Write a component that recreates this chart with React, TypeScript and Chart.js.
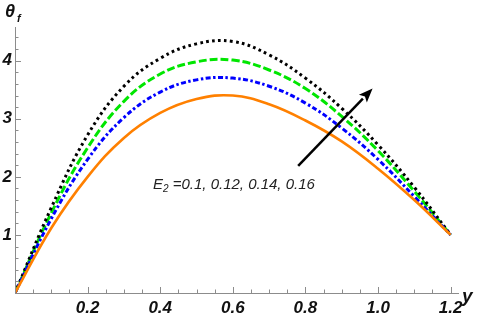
import React, { useEffect, useRef } from "react";
import { Chart, registerables } from "chart.js";

Chart.register(...registerables);

const xValues = [0, 0.1, 0.2, 0.3, 0.4, 0.5, 0.6, 0.7, 0.8, 0.9, 1.0, 1.1, 1.2];
const seriesE010 = [0, 1.12, 2.0, 2.67, 3.1, 3.34, 3.4, 3.25, 2.97, 2.61, 2.14, 1.6, 1.0];
const seriesE012 = [0, 1.28, 2.3, 3.02, 3.46, 3.67, 3.7, 3.56, 3.27, 2.84, 2.3, 1.66, 1.0];
const seriesE014 = [0, 1.38, 2.5, 3.3, 3.77, 3.98, 4.01, 3.84, 3.52, 3.04, 2.45, 1.75, 1.0];
const seriesE016 = [0, 1.47, 2.72, 3.56, 4.04, 4.29, 4.33, 4.1, 3.7, 3.18, 2.55, 1.82, 1.0];
const xTickLabels = [0.2, 0.4, 0.6, 0.8, 1.0, 1.2];
const yTickLabels = [1, 2, 3, 4];
const annotationText = " =0.1, 0.12, 0.14, 0.16";
const arrowFrom = { x: 0.78, y: 2.19 };
const arrowTo = { x: 0.985, y: 3.52 };
const textAnchor = { x: 0.38, y: 1.86 };

const FONT = "'Liberation Sans', Arial, sans-serif";

const toPoints = (ys: number[]) => xValues.map((x, i) => ({ x, y: ys[i] }));

const axesPlugin = {
  id: "mathAxes",
  afterDatasetsDraw(chart: any) {
    const ctx = chart.ctx as CanvasRenderingContext2D;
    const xs = chart.scales.x;
    const ys = chart.scales.y;
    const x0 = xs.getPixelForValue(0);
    const y0 = ys.getPixelForValue(0);
    ctx.save();
    ctx.strokeStyle = "#8c8c8c";
    ctx.lineWidth = 1;
    ctx.beginPath();
    ctx.moveTo(xs.left, y0 + 0.5);
    ctx.lineTo(xs.right, y0 + 0.5);
    ctx.moveTo(x0 + 0.5, ys.bottom);
    ctx.lineTo(x0 + 0.5, ys.top);
    ctx.stroke();
    ctx.beginPath();
    for (let i = 1; i <= 24; i++) {
      const v = i * 0.05;
      const px = Math.round(xs.getPixelForValue(v)) + 0.5;
      const len = i % 4 === 0 ? 6 : 3.5;
      ctx.moveTo(px, y0);
      ctx.lineTo(px, y0 - len);
    }
    for (let i = 1; i <= 22; i++) {
      const v = i * 0.2;
      const py = Math.round(ys.getPixelForValue(v)) + 0.5;
      const len = i % 5 === 0 ? 6 : 3.5;
      ctx.moveTo(x0, py);
      ctx.lineTo(x0 + len, py);
    }
    ctx.stroke();

    ctx.fillStyle = "#111";
    ctx.textBaseline = "alphabetic";
    ctx.textAlign = "left";
    ctx.font = `italic bold 18px ${FONT}`;
    ctx.fillText("θ", 5, 17);
    ctx.font = `italic bold 11px ${FONT}`;
    ctx.fillText("f", 17, 22);
    ctx.font = `italic bold 19px ${FONT}`;
    ctx.fillText("y", 462, 302);

    const tx = xs.getPixelForValue(textAnchor.x);
    const ty = ys.getPixelForValue(textAnchor.y);
    ctx.fillStyle = "#222";
    ctx.font = `italic 15px ${FONT}`;
    ctx.textBaseline = "middle";
    ctx.fillText("E", tx, ty);
    const ew = ctx.measureText("E").width;
    ctx.font = `italic 10px ${FONT}`;
    ctx.fillText("2", tx + ew, ty + 4);
    const sw = ctx.measureText("2").width;
    ctx.font = `italic 15px ${FONT}`;
    ctx.fillText(annotationText, tx + ew + sw, ty);

    const ax1 = xs.getPixelForValue(arrowFrom.x);
    const ay1 = ys.getPixelForValue(arrowFrom.y);
    const ax2 = xs.getPixelForValue(arrowTo.x);
    const ay2 = ys.getPixelForValue(arrowTo.y);
    const ang = Math.atan2(ay2 - ay1, ax2 - ax1);
    const headLen = 14;
    const headW = 5.5;
    const bx = ax2 - headLen * Math.cos(ang);
    const by = ay2 - headLen * Math.sin(ang);
    ctx.strokeStyle = "#000";
    ctx.lineWidth = 2.5;
    ctx.beginPath();
    ctx.moveTo(ax1, ay1);
    ctx.lineTo(bx, by);
    ctx.stroke();
    ctx.fillStyle = "#000";
    ctx.beginPath();
    ctx.moveTo(ax2, ay2);
    ctx.lineTo(bx + headW * Math.sin(ang), by - headW * Math.cos(ang));
    ctx.lineTo(bx + 3 * Math.cos(ang), by + 3 * Math.sin(ang));
    ctx.lineTo(bx - headW * Math.sin(ang), by + headW * Math.cos(ang));
    ctx.closePath();
    ctx.fill();
    ctx.restore();
  },
};

export default function App() {
  const canvasRef = useRef<HTMLCanvasElement | null>(null);

  useEffect(() => {
    document.body.style.margin = "0";
    const canvas = canvasRef.current;
    if (!canvas) return;
    const common = {
      pointRadius: 0,
      fill: false,
      tension: 0.4,
      borderWidth: 3,
      borderCapStyle: "butt" as const,
    };
    const chart = new Chart(canvas, {
      type: "line",
      data: {
        datasets: [
          { ...common, label: "E2=0.1", data: toPoints(seriesE010), borderColor: "#ff8000", borderWidth: 2.6 },
          { ...common, label: "E2=0.12", data: toPoints(seriesE012), borderColor: "#0000ff", borderDash: [5, 2.5, 2.5, 2.5] },
          { ...common, label: "E2=0.16", data: toPoints(seriesE016), borderColor: "#000000", borderDash: [2.7, 3.3] },
          { ...common, label: "E2=0.14", data: toPoints(seriesE014), borderColor: "#00e600", borderDash: [8, 3] },
        ],
      },
      options: {
        animation: false,
        responsive: false,
        maintainAspectRatio: false,
        events: [],
        layout: { padding: { top: 27, right: 25, left: 0, bottom: 0 } },
        plugins: { legend: { display: false }, tooltip: { enabled: false } },
        scales: {
          x: {
            type: "linear",
            min: 0,
            max: 1.223,
            grid: { display: false, drawTicks: false },
            border: { display: false },
            afterFit: (s: any) => {
              s.height = 23;
            },
            afterBuildTicks: (s: any) => {
              s.ticks = xTickLabels.map((v) => ({ value: v }));
            },
            ticks: {
              padding: 5,
              color: "#111",
              maxRotation: 0,
              autoSkip: false,
              font: { family: FONT, size: 17, weight: "bold", style: "italic" },
              callback: (v: any) => Number(v).toFixed(1),
            },
          },
          y: {
            type: "linear",
            min: 0,
            max: 4.58,
            grid: { display: false, drawTicks: false },
            border: { display: false },
            afterFit: (s: any) => {
              s.width = 15;
            },
            afterBuildTicks: (s: any) => {
              s.ticks = yTickLabels.map((v) => ({ value: v }));
            },
            ticks: {
              padding: 3,
              color: "#111",
              autoSkip: false,
              font: { family: FONT, size: 17, weight: "bold", style: "italic" },
              callback: (v: any) => String(v),
            },
          },
        },
      },
      plugins: [axesPlugin],
    });
    return () => chart.destroy();
  }, []);

  return (
    <div style={{ position: "absolute", left: 0, top: 0, width: 484, height: 316, background: "#fff" }}>
      <canvas ref={canvasRef} width={484} height={316} style={{ display: "block", width: 484, height: 316 }} />
    </div>
  );
}
